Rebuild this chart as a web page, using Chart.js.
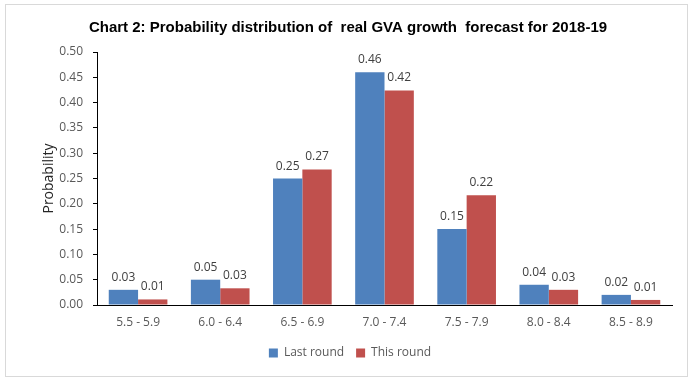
<!DOCTYPE html>
<html><head><meta charset="utf-8">
<script src="https://cdn.jsdelivr.net/npm/chart.js@4.4.1/dist/chart.umd.min.js"></script>
<style>
html,body{margin:0;padding:0;background:#fff;}
#frame{position:absolute;left:5px;top:4px;width:681px;height:371px;border:1px solid #d9d9d9;}
#c{position:absolute;left:0;top:0;}
</style></head><body>
<div id="frame"></div>
<canvas id="c" width="695" height="383"></canvas>
<script>
const categories = ['5.5 - 5.9','6.0 - 6.4','6.5 - 6.9','7.0 - 7.4','7.5 - 7.9','8.0 - 8.4','8.5 - 8.9'];
const lastRound = [0.03, 0.05, 0.25, 0.46, 0.15, 0.04, 0.02];
const thisRound = [0.011, 0.033, 0.268, 0.424, 0.217, 0.030, 0.010];
const yTicks = [0,0.05,0.10,0.15,0.20,0.25,0.30,0.35,0.40,0.45,0.50];

const FONT = "'Open Sans', sans-serif";

const dataLabels = {
  id: 'dataLabels',
  afterDatasetsDraw(chart) {
    const ctx = chart.ctx;
    ctx.save();
    ctx.font = "12px " + FONT;
    ctx.fillStyle = '#404040';
    ctx.textAlign = 'center';
    ctx.textBaseline = 'alphabetic';
    chart.data.datasets.forEach((ds, i) => {
      const meta = chart.getDatasetMeta(i);
      meta.data.forEach((el, j) => {
        ctx.fillText(ds.data[j].toFixed(2), el.x, el.y - 9);
      });
    });
    ctx.restore();
  }
};

const shiftBoxes = {
  id: 'shiftBoxes',
  afterLayout(chart) {
    if (chart.titleBlock) { chart.titleBlock.left += 12; chart.titleBlock.right += 12; }
    if (chart.legend) { chart.legend.left += 14; chart.legend.right += 14; }
  }
};

new Chart(document.getElementById('c'), {
  type: 'bar',
  data: {
    labels: categories,
    datasets: [
      { label: 'Last round', data: lastRound, backgroundColor: '#4f81bd', borderWidth: 0 },
      { label: 'This round', data: thisRound, backgroundColor: '#c0504d', borderWidth: 0 }
    ]
  },
  options: {
    responsive: false,
    animation: false,
    devicePixelRatio: 1,
    layout: { padding: { left: 0, right: 23, top: 19, bottom: 14 } },
    datasets: { bar: { categoryPercentage: 0.714, barPercentage: 1.0 } },
    plugins: {
      title: {
        display: true,
        text: 'Chart 2: Probability distribution of  real GVA growth  forecast for 2018-19',
        color: '#000',
        font: { family: "'Liberation Sans', Arial, sans-serif", size: 15, weight: 'bold' },
        padding: { top: 0, bottom: 15 }
      },
      legend: {
        display: true,
        position: 'bottom',
        labels: {
          boxWidth: 9, boxHeight: 9, padding: 12,
          color: '#595959',
          font: { family: FONT, size: 12 }
        }
      },
      tooltip: { enabled: false }
    },
    scales: {
      x: {
        grid: { display: false, drawTicks: false },
        border: { display: true, color: '#000', width: 1 },
        ticks: { color: '#595959', font: { family: FONT, size: 12 }, padding: 10 },
        afterFit(s) { s.height = 30; }
      },
      y: {
        min: 0, max: 0.5,
        afterBuildTicks(s) { s.ticks = yTicks.map(v => ({ value: v })); },
        grid: { display: true, drawOnChartArea: false, drawTicks: true, tickLength: 4, color: '#000' },
        border: { display: true, color: '#000', width: 1 },
        ticks: { color: '#595959', font: { family: FONT, size: 12 }, padding: 10,
                 callback: v => Number(v).toFixed(2) },
        title: { display: true, text: 'Probability', color: '#262626',
                 font: { family: FONT, size: 14 }, padding: { top: 41, bottom: 0 } },
        afterFit(s) { s.width = 97; }
      }
    }
  },
  plugins: [dataLabels, shiftBoxes]
});
</script>
</body></html>
